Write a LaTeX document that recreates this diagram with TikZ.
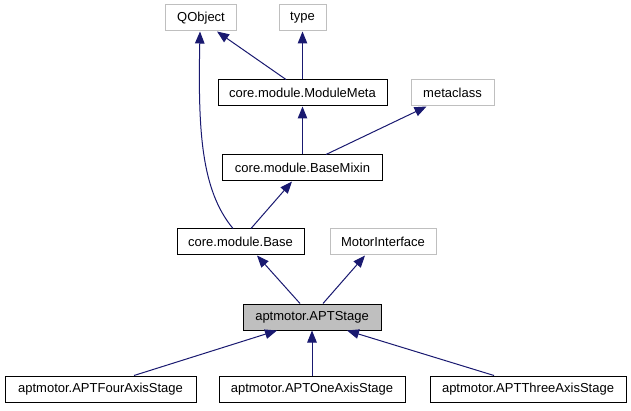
\documentclass[tikz,border=0pt]{standalone}
\usepackage{fontspec}
\setmainfont{Liberation Sans}
\usetikzlibrary{arrows.meta}
\definecolor{edgeblue}{HTML}{191970}
\definecolor{extgray}{HTML}{BFBFBF}
\definecolor{curfill}{HTML}{BFBFBF}
\tikzset{
  cls/.style={draw=black, line width=1pt, minimum height=26pt, inner sep=0pt, font=\fontsize{13}{15}\selectfont},
  ext/.style={cls, draw=extgray},
  cur/.style={cls, fill=curfill},
  inh/.style={draw=edgeblue, line width=1pt, -{Triangle[length=12pt,width=9.5pt]}, color=edgeblue},
}
\begin{document}
\begin{tikzpicture}[x=1pt,y=-1pt]
\useasboundingbox (0,0) rectangle (631,411);
% nodes
\node[ext, minimum width=71pt]  (qobj)  at (201,18)   {QObject};
\node[ext, minimum width=47pt]  (type)  at (302.5,18) {type};
\node[cls, minimum width=169pt] (mmeta) at (302.5,93) {core.module.ModuleMeta};
\node[ext, minimum width=83pt]  (meta)  at (452.5,93) {metaclass};
\node[cls, minimum width=160pt] (bmix)  at (302.5,168){core.module.BaseMixin};
\node[cls, minimum width=127pt] (base)  at (240.5,242){core.module.Base};
\node[ext, minimum width=106pt] (motor) at (383,242)  {MotorInterface};
\node[cur, minimum width=138pt] (apt)   at (312,317)  {aptmotor.APTStage};
\node[cls, minimum width=191pt] (four)  at (100.5,389){aptmotor.APTFourAxisStage};
\node[cls, minimum width=186pt] (one)   at (312,389)  {aptmotor.APTOneAxisStage};
\node[cls, minimum width=196pt] (three) at (528,389)  {aptmotor.APTThreeAxisStage};
% edges
\draw[inh] ([xshift=-16.5pt]mmeta.north) -- ([xshift=16pt]qobj.south);
\draw[inh] (mmeta.north) -- (type.south);
\draw[inh] (bmix.north) -- (mmeta.south);
\draw[inh] ([xshift=23.5pt]bmix.north) -- ([xshift=-26pt]meta.south);
\draw[inh] ([xshift=-7.5pt]base.north) .. controls (201,190) and (198,130) .. ([xshift=-1pt]qobj.south);
\draw[inh] ([xshift=10.5pt]base.north) -- ([xshift=-10.5pt]bmix.south);
\draw[inh] ([xshift=-12pt]apt.north) -- ([xshift=16.5pt]base.south);
\draw[inh] ([xshift=11pt]apt.north) -- ([xshift=-18pt]motor.south);
\draw[inh] ([xshift=33.5pt]four.north) -- ([xshift=-35pt]apt.south);
\draw[inh] (one.north) -- (apt.south);
\draw[inh] ([xshift=-34pt]three.north) -- ([xshift=35pt]apt.south);
\end{tikzpicture}
\end{document}
